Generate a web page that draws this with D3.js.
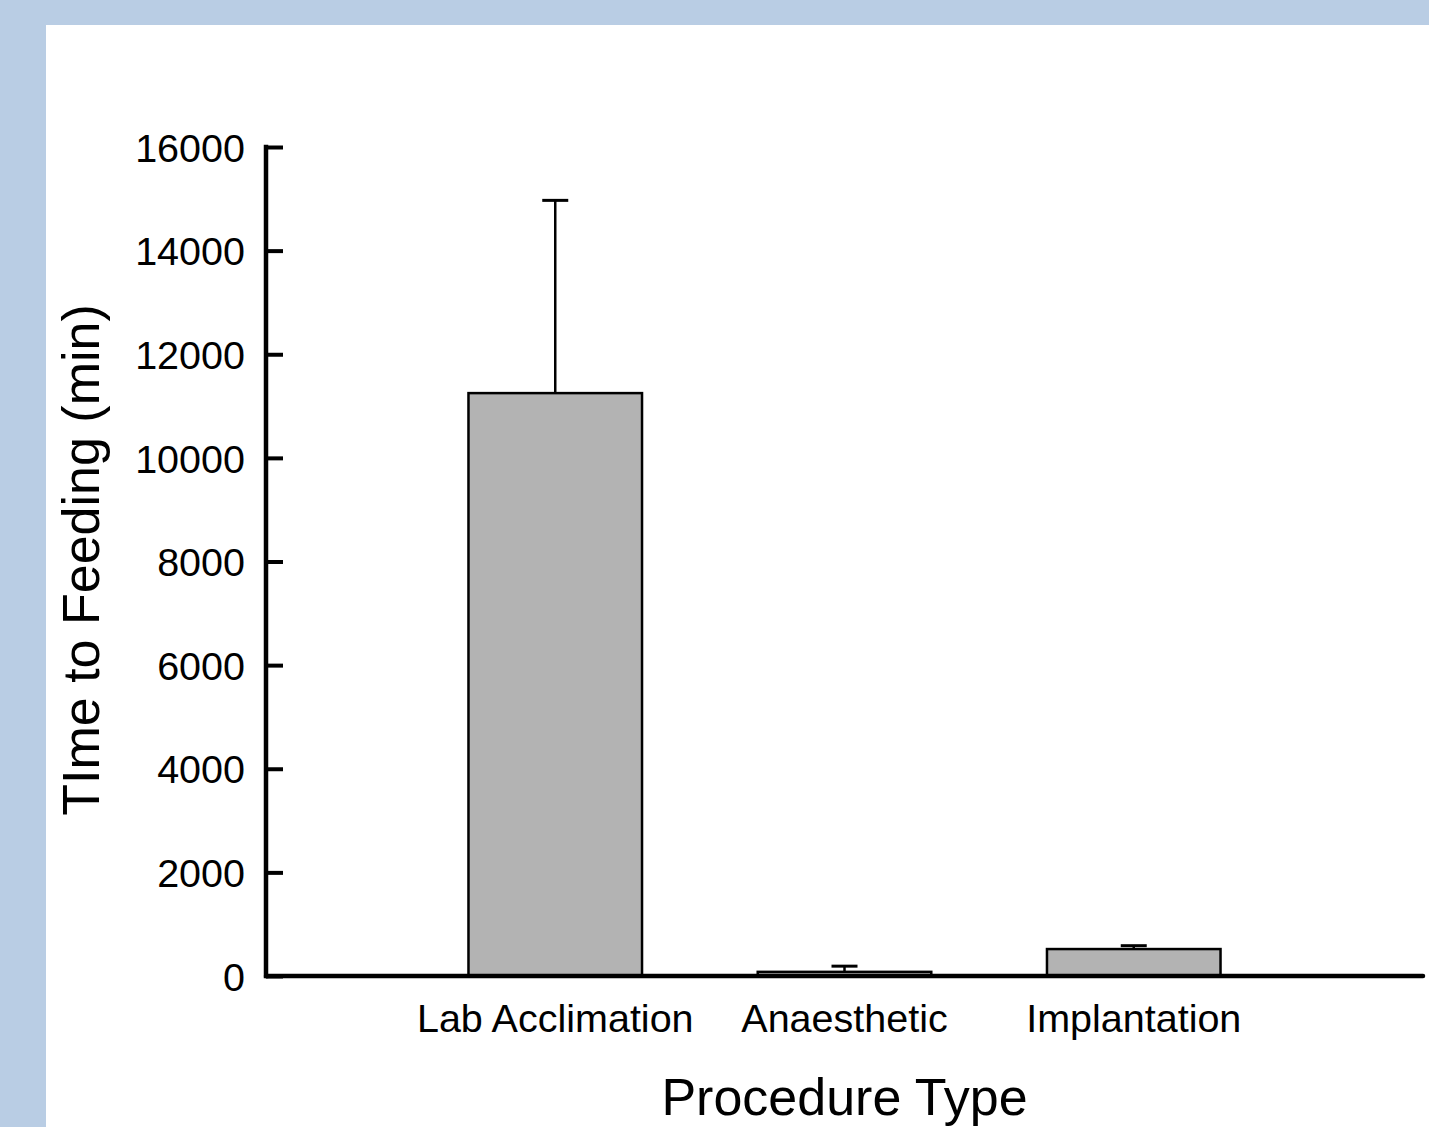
<!DOCTYPE html>
<html>
<head>
<meta charset="utf-8">
<script src="https://cdn.jsdelivr.net/npm/d3@7"></script>
<style>
  body { margin: 0; background: #b9cde4; }
  svg { display: block; font-family: Arial, "Liberation Sans", sans-serif; }
</style>
</head>
<body>
<div id="chart"></div>
<script>
// Data
const categories = ["Lab Acclimation", "Anaesthetic", "Implantation"];
const means = [11250, 80, 520];
const errors = [3720, 110, 65];
const yTicks = [0, 2000, 4000, 6000, 8000, 10000, 12000, 14000, 16000];

const width = 1429,
  height = 1127;

// plot area in page pixels
const margin = { top: 147, left: 266, right: 6, bottom: 151 };
const plotW = width - margin.left - margin.right,
  plotH = height - margin.top - margin.bottom;

const svg = d3.select("#chart")
  .append("svg")
    .attr("width", width)
    .attr("height", height);

// blue frame, white panel
svg.append("rect")
  .attr("width", width).attr("height", height)
  .attr("fill", "#b9cde4");
svg.append("rect")
  .attr("x", 46).attr("y", 25)
  .attr("width", width - 46).attr("height", height - 25)
  .attr("fill", "#ffffff");

const g = svg.append("g")
  .attr("transform", "translate(" + margin.left + "," + margin.top + ")");

// Bars sit in the middle three of four equal slots along the axis
const slot = plotW / 4;
const xScale = d3.scaleBand()
  .domain(categories)
  .range([slot / 2, plotW - slot / 2])
  .paddingInner(0.4)
  .paddingOuter(0.2);

const yScale = d3.scaleLinear()
  .domain([0, 16000])
  .range([plotH, 0]);

// Bars
g.selectAll(".bar")
  .data(categories)
  .enter()
  .append("rect")
    .attr("class", "bar")
    .attr("x", d => xScale(d))
    .attr("y", (d, i) => yScale(means[i]))
    .attr("width", xScale.bandwidth())
    .attr("height", (d, i) => plotH - yScale(means[i]))
    .style("fill", "#b3b3b3")
    .style("stroke", "#000")
    .style("stroke-width", 2.5);

// Error bars (upper only)
const capHalf = 13;
const err = g.selectAll(".err")
  .data(categories)
  .enter()
  .append("g")
    .attr("class", "err");

err.append("line")
  .attr("x1", d => xScale(d) + xScale.bandwidth() / 2)
  .attr("x2", d => xScale(d) + xScale.bandwidth() / 2)
  .attr("y1", (d, i) => yScale(means[i]))
  .attr("y2", (d, i) => yScale(means[i] + errors[i]))
  .style("stroke", "#000")
  .style("stroke-width", 2.5);

err.append("line")
  .attr("x1", d => xScale(d) + xScale.bandwidth() / 2 - capHalf)
  .attr("x2", d => xScale(d) + xScale.bandwidth() / 2 + capHalf)
  .attr("y1", (d, i) => yScale(means[i] + errors[i]))
  .attr("y2", (d, i) => yScale(means[i] + errors[i]))
  .style("stroke", "#000")
  .style("stroke-width", 3);

// Y axis, ticks point inward
const yAxis = g.append("g")
  .call(d3.axisLeft(yScale).tickValues(yTicks).tickSize(-17).tickPadding(21).tickFormat(d3.format("d")));
yAxis.select(".domain")
  .attr("d", "M0," + plotH + "V0")
  .style("stroke-width", 4.5)
  .style("stroke-linecap", "square");
yAxis.selectAll(".tick line")
  .style("stroke-width", 4);
yAxis.selectAll(".tick text")
  .style("font-size", "39.5px")
  .style("font-family", "Arial, 'Liberation Sans', sans-serif")
  .attr("dy", "0.36em")
  .attr("fill", "#000");

// X axis: plain thick line with category labels
const xAxis = g.append("g")
  .attr("transform", "translate(0," + plotH + ")")
  .call(d3.axisBottom(xScale).tickSize(0).tickPadding(28));
xAxis.select(".domain")
  .attr("d", "M0,0H" + plotW)
  .style("stroke-width", 4.5)
  .style("stroke-linecap", "round");
xAxis.selectAll(".tick text")
  .style("font-size", "39.5px")
  .style("font-family", "Arial, 'Liberation Sans', sans-serif")
  .attr("fill", "#000");

// Axis titles
svg.append("text")
  .attr("x", margin.left + plotW * 0.5)
  .attr("y", 1115)
  .attr("text-anchor", "middle")
  .style("font-size", "52px")
  .text("Procedure Type");

svg.append("text")
  .attr("transform", "translate(99," + 560 + ") rotate(-90)")
  .attr("text-anchor", "middle")
  .style("font-size", "52px")
  .text("TIme to Feeding (min)");
</script>
</body>
</html>
